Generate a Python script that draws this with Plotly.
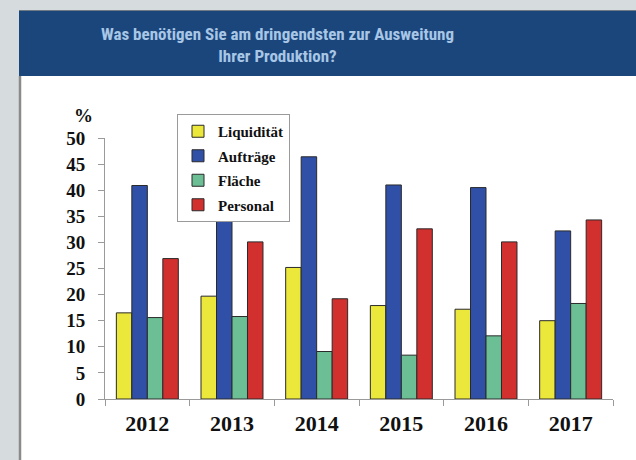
import plotly.graph_objects as go

years = ["2012", "2013", "2014", "2015", "2016", "2017"]
liquiditaet = [16.5, 19.7, 25.2, 17.9, 17.2, 15.0]
auftraege = [40.9, 34.2, 46.4, 41.0, 40.5, 32.2]
flaeche = [15.6, 15.8, 9.1, 8.4, 12.1, 18.3]
personal = [26.9, 30.1, 19.2, 32.6, 30.1, 34.3]
series_names = ["Liquidität", "Aufträge", "Fläche", "Personal"]
y_ticks = [0, 5, 10, 15, 20, 25, 30, 35, 40, 45, 50]

colors = ["#ece73b", "#2f50a6", "#6cbf95", "#d2302f"]
W, H = 636, 460
L, R, T, B = 105, 23, 138, 61
pw, ph = W - L - R, H - T - B

def px(x):
    return (x - L) / pw

def py(y):
    return (H - B - y) / ph

fig = go.Figure()
for name, vals, c in zip(series_names, [liquiditaet, auftraege, flaeche, personal], colors):
    fig.add_trace(go.Bar(
        x=years, y=vals, name=name, legendgroup=name,
        marker=dict(color=c, line=dict(color="#2a2a2a", width=1)),
    ))

serif = "Liberation Serif, Times New Roman, serif"
title_font = "Roboto Condensed, DejaVu Sans Condensed, sans-serif"

shapes = [
    dict(type="rect", xref="paper", yref="paper", x0=px(19), x1=px(640), y0=py(465), y1=py(10.5),
         fillcolor="white", line=dict(width=0), layer="below"),
    dict(type="rect", xref="paper", yref="paper", x0=px(19), x1=px(640), y0=py(76), y1=py(10.5),
         fillcolor="#1b467c", line=dict(width=0), layer="below"),
    dict(type="line", xref="paper", yref="paper", x0=px(19), x1=px(640), y0=py(10.5), y1=py(10.5),
         line=dict(color="#6f7a85", width=1), layer="below"),
    dict(type="line", xref="paper", yref="paper", x0=px(20), x1=px(20), y0=py(76), y1=py(465),
         line=dict(color="#8a8a8a", width=2.5), layer="below"),
]

fig.update_layout(
    width=W, height=H,
    margin=dict(l=L, r=R, t=T, b=B),
    paper_bgcolor="#d6dbde",
    plot_bgcolor="white",
    barmode="group",
    bargap=0.268,
    bargroupgap=0,
    shapes=shapes,
    showlegend=True,
    legend=dict(
        x=px(177), y=py(114), xanchor="left", yanchor="top",
        bgcolor="white", bordercolor="#9a9a9a", borderwidth=1,
        font=dict(family=serif, size=15, color="#111111", weight="bold"),
        traceorder="grouped", tracegroupgap=2,
        itemwidth=30,
    ),
    annotations=[
        dict(text="Was benötigen Sie am dringendsten zur Ausweitung<br>Ihrer Produktion?",
             xref="paper", yref="paper", x=px(277), y=py(44.5), xanchor="center", yanchor="middle",
             showarrow=False, font=dict(family=title_font, size=17, color="#a8c6e6", weight="bold")),
        dict(text="%", xref="paper", yref="paper", x=px(83), y=py(116), xanchor="center", yanchor="middle",
             showarrow=False, font=dict(family=serif, size=19, color="#111111", weight="bold")),
    ],
)

fig.update_xaxes(
    showline=True, linecolor="#9a9a9a", linewidth=1,
    ticks="outside", tickson="boundaries", ticklen=6, tickcolor="#9a9a9a",
    tickfont=dict(family=serif, size=22, color="#111111", weight="bold"),
    ticklabelstandoff=5,
    showgrid=False, fixedrange=True,
)
fig.update_yaxes(
    range=[0, 50], tickvals=y_ticks,
    showline=True, linecolor="#9a9a9a", linewidth=1,
    ticks="outside", ticklen=6, tickcolor="#9a9a9a",
    tickfont=dict(family=serif, size=19, color="#111111", weight="bold"),
    ticklabelstandoff=9,
    showgrid=False, zeroline=False, fixedrange=True,
)

fig.write_html("out.html", config={"displayModeBar": False},
               post_script="document.body.style.margin='0';")
